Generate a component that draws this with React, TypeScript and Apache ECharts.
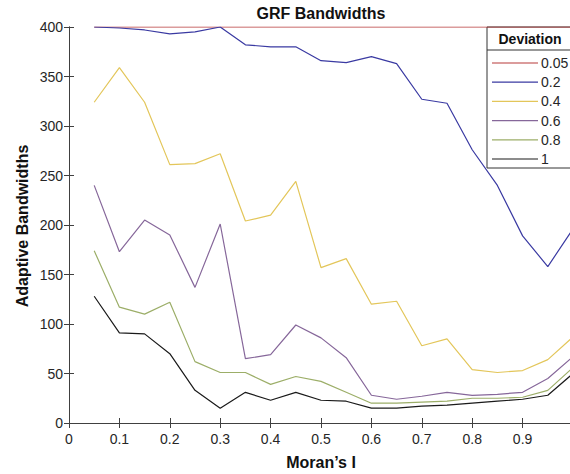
import React, { useEffect, useRef } from "react";
import * as echarts from "echarts";

const moransI = [0.05, 0.1, 0.15, 0.2, 0.25, 0.3, 0.35, 0.4, 0.45, 0.5, 0.55, 0.6, 0.65, 0.7, 0.75, 0.8, 0.85, 0.9, 0.95, 1.0];
const dev005 = [400, 400, 400, 400, 400, 400, 400, 400, 400, 400, 400, 400, 400, 400, 400, 400, 400, 400, 400, 400];
const dev02 = [400, 399, 397, 393, 395, 400, 382, 380, 380, 366, 364, 370, 363, 327, 323, 276, 240, 189, 158, 196];
const dev04 = [324, 359, 324, 261, 262, 272, 204, 210, 244, 157, 166, 120, 123, 78, 85, 54, 51, 53, 64, 87];
const dev06 = [240, 173, 205, 190, 137, 201, 65, 69, 99, 86, 66, 28, 24, 27, 31, 28, 29, 31, 45, 67];
const dev08 = [174, 117, 110, 122, 62, 51, 51, 39, 47, 42, 31, 20, 20, 21, 22, 25, 25, 26, 33, 56];
const dev1 = [128, 91, 90, 70, 33, 15, 31, 23, 31, 23, 22, 15, 15, 17, 18, 20, 22, 24, 28, 50];

const seriesNames = ["0.05", "0.2", "0.4", "0.6", "0.8", "1"];
const seriesValues = [dev005, dev02, dev04, dev06, dev08, dev1];
const seriesColors = ["#b83a3a", "#3a3aa2", "#e3c65a", "#86679a", "#9cae68", "#1a1a1a"];

const title = "GRF Bandwidths";
const xName = "Moran\u2019s I";
const yName = "Adaptive Bandwidths";
const legendTitle = "Deviation";

const FONT = "'Liberation Sans', Arial, sans-serif";
const AX = "#404040";

export default function App() {
  const ref = useRef<HTMLDivElement>(null);
  useEffect(() => {
    if (!ref.current) return;
    const chart = echarts.init(ref.current, undefined, { renderer: "svg" });

    const series = seriesNames.map((name, i) => ({
      name,
      type: "line",
      symbol: "none",
      data: moransI.map((x, j) => [x, seriesValues[i][j]]),
      lineStyle: { color: seriesColors[i], width: 1.2 },
      itemStyle: { color: seriesColors[i] },
      z: 2,
    }));

    const legendLeft = 487;
    const legendTop = 27;
    const rowStart = 63;
    const rowGap = 19.2;
    const legendChildren: any[] = [
      {
        type: "rect",
        shape: { x: legendLeft, y: legendTop, width: 86, height: 141 },
        style: { fill: "#fff", stroke: "#333", lineWidth: 1 },
      },
      {
        type: "line",
        shape: { x1: legendLeft, y1: 50, x2: legendLeft + 86, y2: 50 },
        style: { stroke: "#333", lineWidth: 1 },
      },
      {
        type: "text",
        x: 530,
        y: 39,
        style: { text: legendTitle, font: `bold 14px ${FONT}`, fill: "#111", align: "center", verticalAlign: "middle" },
      },
    ];
    seriesNames.forEach((name, i) => {
      const y = rowStart + i * rowGap;
      legendChildren.push({
        type: "line",
        shape: { x1: 492, y1: y, x2: 538, y2: y },
        style: { stroke: seriesColors[i], lineWidth: 1.2 },
      });
      legendChildren.push({
        type: "text",
        x: 541,
        y: y,
        style: { text: name, font: `14px ${FONT}`, fill: "#262626", align: "left", verticalAlign: "middle" },
      });
    });

    const axisCommon = {
      axisLine: { show: true, lineStyle: { color: AX, width: 1 } },
      axisTick: { show: true, inside: true, length: 5, lineStyle: { color: AX, width: 1 } },
      splitLine: { show: false },
    };

    chart.setOption({
      animation: false,
      backgroundColor: "#fff",
      grid: { left: 69, top: 27, width: 504, height: 396, containLabel: false },
      xAxis: [
        {
          type: "value",
          min: 0,
          max: 1,
          interval: 0.1,
          position: "bottom",
          ...axisCommon,
          axisLabel: {
            fontSize: 14,
            fontFamily: FONT,
            color: "#262626",
            margin: 9,
            showMaxLabel: false,
            formatter: (v: number) => String(Math.round(v * 10) / 10),
          },
        },
        {
          type: "value",
          min: 0,
          max: 1,
          interval: 0.1,
          position: "top",
          ...axisCommon,
          axisLabel: { show: false },
        },
      ],
      yAxis: [
        {
          type: "value",
          min: 0,
          max: 400,
          interval: 50,
          position: "left",
          ...axisCommon,
          axisLabel: { fontSize: 14, fontFamily: FONT, color: "#262626", margin: 6 },
        },
        {
          type: "value",
          min: 0,
          max: 400,
          interval: 50,
          position: "right",
          ...axisCommon,
          axisLabel: { show: false },
        },
      ],
      series,
      graphic: [
        {
          type: "text",
          x: 321,
          y: 13,
          style: { text: title, font: `bold 16px ${FONT}`, fill: "#111", align: "center", verticalAlign: "middle" },
        },
        {
          type: "text",
          x: 321,
          y: 462,
          style: { text: xName, font: `bold 16px ${FONT}`, fill: "#111", align: "center", verticalAlign: "middle" },
        },
        {
          type: "text",
          x: 22,
          y: 226,
          rotation: Math.PI / 2,
          style: { text: yName, font: `bold 16px ${FONT}`, fill: "#111", align: "center", verticalAlign: "middle" },
        },
        { type: "group", z: 100, children: legendChildren },
      ],
    });
    return () => chart.dispose();
  }, []);

  return (
    <div style={{ position: "fixed", left: 0, top: 0, width: 570, height: 474, overflow: "hidden", background: "#fff" }}>
      <div ref={ref} style={{ width: 600, height: 474 }} />
    </div>
  );
}
